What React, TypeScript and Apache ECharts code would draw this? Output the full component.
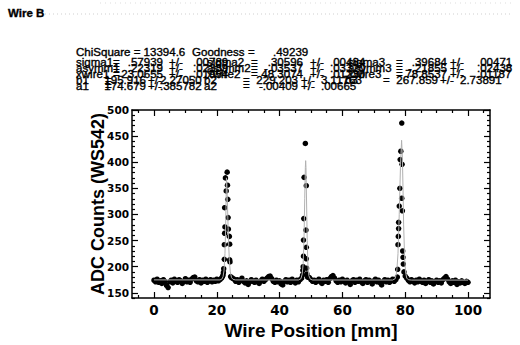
import React, { useEffect, useRef } from "react";
import * as echarts from "echarts";

// ---------- data ----------
const baseStep = 0.5;
const baseAStart = 0;
const baseAValues = [174, 171, 176, 170, 173, 168, 175, 172, 164, 160, 171, 174, 169, 176, 172, 170, 175, 173, 168, 172, 177, 171, 174, 170, 176, 179, 180, 173, 171, 175, 169, 174, 172, 176, 170, 173, 175, 171, 174, 172, 176, 173, 175, 178];
const baseBStart = 25;
const baseBValues = [178, 176, 172, 175, 170, 174, 178, 172, 169, 173, 166, 171, 175, 172, 170, 174, 171, 168, 173, 176, 172, 175, 178, 181, 182, 177, 172, 170, 174, 171, 173, 167, 165, 172, 175, 171, 174, 170, 176, 172, 169, 174, 171, 175, 178];
const baseCStart = 49.5;
const baseCValues = [179, 175, 172, 174, 170, 173, 176, 171, 168, 174, 172, 175, 170, 177, 181, 183, 178, 173, 170, 174, 171, 176, 172, 169, 174, 171, 166, 173, 175, 170, 174, 172, 176, 171, 168, 173, 175, 170, 174, 172, 167, 173, 176, 171, 174, 169, 165, 172, 175, 171, 174, 170, 173, 176, 172, 175, 180];
const baseDStart = 80;
const baseDValues = [182, 178, 174, 171, 175, 172, 169, 174, 171, 176, 172, 170, 174, 168, 172, 175, 170, 173, 167, 171, 174, 170, 173, 169, 175, 178, 181, 176, 171, 168, 173, 170, 174, 166, 171, 169, 173, 170, 168, 172, 170];

const peak1Points = [[21.8, 181], [22.0, 184], [22.2, 196], [22.1, 189], [22.4, 214], [22.4, 242], [22.5, 264], [22.6, 276], [22.5, 313], [22.75, 370], [23.0, 345], [23.3, 381], [23.4, 356], [23.5, 329], [23.6, 294], [23.7, 272], [24.0, 258], [24.1, 243], [24.1, 213], [24.2, 209], [24.4, 181], [24.7, 179]];
const peak2Points = [[47.3, 184], [47.4, 193], [47.5, 200], [47.6, 220], [47.6, 251], [47.7, 292], [47.8, 371], [48.2, 436], [48.5, 355], [48.4, 270], [48.5, 237], [48.5, 215], [48.6, 197], [48.7, 186], [48.9, 180]];
const peak3Points = [[77.6, 195], [77.7, 242], [77.8, 258], [77.9, 273], [77.9, 285], [78.1, 316], [78.3, 350], [78.4, 405], [78.6, 421], [78.9, 475], [79.0, 396], [78.9, 331], [79.1, 307], [79.2, 230], [79.3, 218], [79.4, 205], [79.6, 190]];

const fitX = [0, 21, 21.6, 22.0, 22.3, 22.6, 22.8, 23.0, 23.07, 23.2, 23.4, 23.6, 23.8, 24.0, 24.3, 24.7, 25.2, 26, 46, 46.8, 47.2, 47.5, 47.8, 48.0, 48.2, 48.3, 48.4, 48.6, 48.8, 49.0, 49.3, 49.8, 50.5, 76, 76.8, 77.3, 77.7, 78.1, 78.5, 78.85, 79.1, 79.3, 79.5, 79.8, 80.1, 80.5, 81, 82, 100];
const fitY = [174.7, 174.6, 176, 181, 192, 225, 270, 340, 370, 360, 320, 275, 240, 212, 190, 179, 175.5, 174.6, 174.5, 177, 186, 205, 260, 330, 390, 403, 390, 320, 250, 205, 183, 176, 174.5, 174.4, 177, 190, 225, 300, 395, 442, 410, 350, 280, 220, 190, 178, 175, 174.3, 174.3];

const xTickLabels = [0, 20, 40, 60, 80, 100];
const xMinorTicks = [-5, 5, 10, 15, 25, 30, 35, 45, 50, 55, 65, 70, 75, 85, 90, 95, 105];
const yTickLabels = [150, 200, 250, 300, 350, 400, 450, 500];
const yMinorTicks = [140, 160, 170, 180, 190, 210, 220, 230, 240, 260, 270, 280, 290, 310, 320, 330, 340, 360, 370, 380, 390, 410, 420, 430, 440, 460, 470, 480, 490];

const chiText = "ChiSquare = 13394.6";
const goodnessLabel = "Goodness";
const goodnessValue = ".49239";
const statNames = [
  ["sigma1", "asymm1", "xwire1", "b1", "a1"],
  ["sigma2", "asymm2", "xwire2", "b2", "a2"],
  ["sigma3", "asymm3", "xwire3", "b3"],
];
const statValues = [
  [".57939", ".22319", "23.0655", "195.916", "174.679"],
  [".30596", "-.03537", "48.3074", "229.203", "-.00409"],
  [".39684", "-.21855", "78.8537", "267.859"],
];
const statErrors = [
  [".00789", ".02339", ".01954", "2.27050", ".385782"],
  [".00484", ".03320", ".01230", "3.11763", ".00665"],
  [".00471", ".02438", ".01187", "2.73891"],
];

// ---------- layout (positions, not data) ----------
const rowBaselines = [65.7, 71.7, 77.7, 83.7, 89.5];
// per column: [label, eq, valueRight, pm, err]
const colNormal = [
  [76, 113, 163, 169, 193],
  [207, 251, 303, 310, 330],
  [348, 396, 447, 450, 477],
];
const colBA = [
  [76, 105, 146, 148, 160],
  [204, 243, 298, 301, 321],
  [345, 383, 438, 440, 460],
];

const FONT_NUM = '"DejaVu Sans", sans-serif';
const FONT_TXT = '"Liberation Sans", Arial, sans-serif';

function buildScatter(): number[][] {
  const pts: number[][] = [];
  const segs: [number, number[]][] = [
    [baseAStart, baseAValues],
    [baseBStart, baseBValues],
    [baseCStart, baseCValues],
    [baseDStart, baseDValues],
  ];
  segs.forEach(([start, vals]) => vals.forEach((v, i) => pts.push([start + i * baseStep, v])));
  return pts.concat(peak1Points, peak2Points, peak3Points);
}

function txt(text: string, x: number, baseline: number, opts: any = {}) {
  const size = opts.size || 10.5;
  return {
    type: "text",
    x,
    y: baseline - size * 0.35,
    scaleX: opts.scaleX || 1.1,
    silent: true,
    z: 100,
    style: {
      text,
      font: `${opts.weight || "normal"} ${size}px ${opts.family || FONT_TXT}`,
      fill: "#000",
      stroke: "#000",
      lineWidth: 0.35,
      textAlign: opts.align || "left",
      align: opts.align || "left",
      textVerticalAlign: "middle",
      verticalAlign: "middle",
    },
  };
}

function buildGraphics() {
  const g: any[] = [];
  g.push(txt("Wire B", 8, 17, { weight: "bold", size: 11, scaleX: 1.05 }));
  g.push({ type: "line", shape: { x1: 45, y1: 14, x2: 512, y2: 14 }, style: { stroke: "#cfcfcf", lineWidth: 1, lineDash: [1, 3] }, silent: true });
  g.push({ type: "line", shape: { x1: 100, y1: 3, x2: 512, y2: 3 }, style: { stroke: "#dddddd", lineWidth: 1, lineDash: [1, 4] }, silent: true });
  g.push(txt(chiText, 76, 55.5));
  g.push(txt(goodnessLabel, 192, 55.5));
  g.push(txt("=", 248, 55.5));
  g.push(txt(goodnessValue, 273, 55.5));
  statNames.forEach((names, c) => {
    names.forEach((name, r) => {
      const lay = r >= 3 ? colBA[c] : colNormal[c];
      const b = rowBaselines[r];
      g.push(txt(name, lay[0], b));
      g.push(txt("=", lay[1], b));
      g.push(txt(statValues[c][r], lay[2], b, { align: "right" }));
      g.push(txt("+/-", lay[3], b));
      g.push(txt(statErrors[c][r], lay[4], b));
    });
  });
  return g;
}

const X_MIN = -7;
const X_MAX = 107;
const Y_MIN = 140;
const Y_MAX = 500;
const axisLineStyle = { color: "#000", width: 1.5 };

function xAxisDef(position: "top" | "bottom", ticks: number[], len: number, main: boolean) {
  return {
    type: "value",
    min: X_MIN,
    max: X_MAX,
    position,
    axisLine: { show: main, onZero: false, lineStyle: axisLineStyle },
    axisTick: { show: true, inside: true, length: len, customValues: ticks, lineStyle: { color: "#000", width: 1.2 } },
    axisLabel:
      main && position === "bottom"
        ? { show: true, customValues: xTickLabels, color: "#000", fontFamily: FONT_NUM, fontWeight: "bold", fontSize: 13.5, margin: 5 }
        : { show: false },
    splitLine: { show: false },
    ...(main && position === "bottom"
      ? {
          name: "Wire Position [mm]",
          nameLocation: "middle",
          nameGap: 23,
          nameMoveOverlap: false,
          nameTextStyle: { color: "#000", fontFamily: FONT_TXT, fontWeight: "bold", fontSize: 19 },
        }
      : {}),
  };
}

function yAxisDef(position: "left" | "right", ticks: number[], len: number, main: boolean) {
  return {
    type: "value",
    min: Y_MIN,
    max: Y_MAX,
    position,
    axisLine: { show: main, onZero: false, lineStyle: axisLineStyle },
    axisTick: { show: true, inside: true, length: len, customValues: ticks, lineStyle: { color: "#000", width: 1.2 } },
    axisLabel:
      main && position === "left"
        ? { show: true, customValues: yTickLabels, color: "#000", fontFamily: FONT_NUM, fontWeight: "bold", fontSize: 10.5, margin: 3 }
        : { show: false },
    splitLine: { show: false },
    ...(main && position === "left"
      ? {
          name: "ADC Counts (WS542)",
          nameLocation: "middle",
          nameGap: 25,
          nameMoveOverlap: false,
          nameTextStyle: { color: "#000", fontFamily: FONT_TXT, fontWeight: "bold", fontSize: 18 },
        }
      : {}),
  };
}

export default function App() {
  const ref = useRef<HTMLDivElement>(null);
  useEffect(() => {
    if (!ref.current) return;
    const chart = echarts.init(ref.current, null, { renderer: "svg" });
    const fitData = fitX.map((x, i) => [x, fitY[i]]);
    chart.setOption({
      animation: false,
      backgroundColor: "#fff",
      grid: { left: 132, right: 30, top: 110, bottom: 40 },
      xAxis: [
        xAxisDef("bottom", xTickLabels, 6, true),
        xAxisDef("bottom", xMinorTicks, 3, false),
        xAxisDef("top", xTickLabels, 6, true),
        xAxisDef("top", xMinorTicks, 3, false),
      ],
      yAxis: [
        yAxisDef("left", yTickLabels, 6, true),
        yAxisDef("left", yMinorTicks, 3, false),
        yAxisDef("right", yTickLabels, 6, true),
        yAxisDef("right", yMinorTicks, 3, false),
      ],
      series: [
        {
          type: "scatter",
          xAxisIndex: 0,
          yAxisIndex: 0,
          data: buildScatter(),
          symbol: "circle",
          symbolSize: 5.5,
          itemStyle: { color: "#000", opacity: 1 },
          z: 2,
        },
        {
          type: "line",
          xAxisIndex: 0,
          yAxisIndex: 0,
          data: fitData,
          showSymbol: false,
          smooth: false,
          lineStyle: { color: "#b0b0b0", width: 1 },
          z: 3,
        },
      ],
      graphic: buildGraphics(),
    });
    return () => chart.dispose();
  }, []);
  return <div ref={ref} style={{ width: 520, height: 345, position: "absolute", left: 0, top: 0 }} />;
}
